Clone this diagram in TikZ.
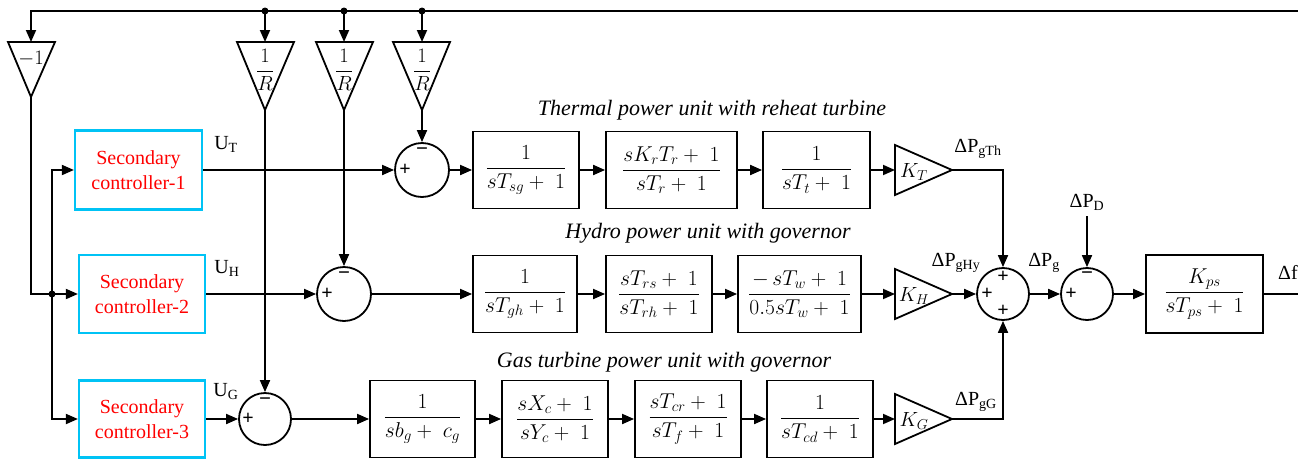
\documentclass[tikz,border=0pt]{standalone}
\usepackage{fix-cm}
\usepackage{amsmath}
\usepackage{fontspec}
\setmainfont{Liberation Serif}
\usetikzlibrary{arrows.meta}
\definecolor{ctrlblue}{RGB}{0,195,245}
\newcommand\fMath{\fontsize{21.5}{25}\selectfont}
\newcommand\fGain{\fontsize{20.5}{24}\selectfont}
\newcommand\fCtrl{\fontsize{20}{25}\selectfont}
\newcommand\fLbl{\fontsize{20}{24}\selectfont}
\newcommand\fTtl{\fontsize{22}{26}\selectfont\itshape}
\newcommand\fSgn{\fontsize{20}{20}\selectfont\bfseries}
\newcommand\fMinus{\fontsize{21}{21}\selectfont\bfseries}
\tikzset{
  ln/.style={line width=1.8pt},
  arr/.style={line width=1.8pt,-{Triangle[length=12pt,width=10pt]}},
  blk/.style={draw,line width=1.8pt,minimum height=77pt,inner sep=0pt,font=\fMath},
  ctrl/.style={draw=ctrlblue,line width=2.2pt,text=red,align=center,font=\fCtrl,inner sep=0pt},
  sumn/.style={circle,draw,line width=1.8pt,inner sep=0pt},
  lbl/.style={font=\fLbl,inner sep=0pt},
  ttl/.style={font=\fTtl,inner sep=0pt},
  sgn/.style={font=\fSgn,inner sep=0pt},
  mns/.style={font=\fMinus,inner sep=0pt},
  gtxt/.style={font=\fGain,inner sep=0pt},
  gain/.style={line width=1.8pt},
}
\begin{document}
\begin{tikzpicture}[x=1pt,y=-1pt]
\useasboundingbox (0,0) rectangle (1298,458);

% controllers
\node[ctrl,minimum width=127pt,minimum height=79pt] (c1) at (138.5,170) {Secondary\\controller-1};
\node[ctrl,minimum width=126pt,minimum height=78pt] (c2) at (142,294) {Secondary\\controller-2};
\node[ctrl,minimum width=126pt,minimum height=77pt] (c3) at (142,419) {Secondary\\controller-3};

% summing junctions
\node[sumn,minimum size=54pt] (st) at (422,170) {};
\node[sumn,minimum size=54pt] (sh) at (344,294) {};
\node[sumn,minimum size=52pt] (sg) at (265,419) {};
\node[sumn,minimum size=52pt] (sm) at (1003,294) {};
\node[sumn,minimum size=52pt] (sd) at (1087,294) {};

% signs
\node[sgn] at ([xshift=-17pt]st.center) {+};
\node[mns] at ([yshift=-10pt]st.north) {−};
\node[sgn] at ([xshift=-17pt]sh.center) {+};
\node[mns] at ([yshift=-10pt]sh.north) {−};
\node[sgn] at ([xshift=-17pt]sg.center) {+};
\node[mns] at ([yshift=-10pt]sg.north) {−};
\node[sgn] at ([xshift=-16pt]sm.center) {+};
\node[sgn] at ([yshift=-10pt]sm.north) {+};
\node[sgn] at ([yshift=10pt]sm.south) {+};
\node[sgn] at ([xshift=-16pt]sd.center) {+};
\node[mns] at ([yshift=-9pt]sd.north) {−};

% thermal blocks
\node[blk,minimum width=106pt] (t1) at (526,170) {$\dfrac{1}{sT_{sg}+\;1}$};
\node[blk,minimum width=131pt] (t2) at (671.5,170) {$\dfrac{sK_rT_r+\;1}{sT_r+\;1}$};
\node[blk,minimum width=107pt] (t3) at (816.5,170) {$\dfrac{1}{sT_t+\;1}$};
% hydro blocks
\node[blk,minimum width=104pt] (h1) at (525,294) {$\dfrac{1}{sT_{gh}+\;1}$};
\node[blk,minimum width=106pt] (h2) at (659,294) {$\dfrac{sT_{rs}+\;1}{sT_{rh}+\;1}$};
\node[blk,minimum width=123pt] (h3) at (799.5,294) {$\dfrac{-\,sT_w+\;1}{0.5sT_w+\;1}$};
% gas blocks
\node[blk,minimum width=105pt] (g1) at (422.5,419) {$\dfrac{1}{sb_g+\;c_g}$};
\node[blk,minimum width=106pt] (g2) at (555,419) {$\dfrac{sX_c+\;1}{sY_c+\;1}$};
\node[blk,minimum width=106pt] (g3) at (688,419) {$\dfrac{sT_{cr}+\;1}{sT_f+\;1}$};
\node[blk,minimum width=106pt] (g4) at (820,419) {$\dfrac{1}{sT_{cd}+\;1}$};
% power system
\node[blk,minimum width=117pt,minimum height=78pt] (kps) at (1204.5,294) {$\dfrac{K_{ps}}{sT_{ps}+\;1}$};

% gain triangles (downward)
\draw[gain] (8,42) -- (55,42) -- (31,97) -- cycle;
\node[gtxt] (negl) at (31,59) {$-1$};
\draw[gain] (237,42) -- (294,42) -- (265,110) -- cycle;
\node[gtxt] (r1l) at (265,70) {$\dfrac{1}{R}$};
\draw[gain] (316,42) -- (373,42) -- (344,110) -- cycle;
\node[gtxt] (r2l) at (344,70) {$\dfrac{1}{R}$};
\draw[gain] (393,42) -- (450,42) -- (422,110) -- cycle;
\node[gtxt] (r3l) at (422,70) {$\dfrac{1}{R}$};

% K triangles (rightward)
\draw[gain] (895,145) -- (952,170) -- (895,195) -- cycle;
\node[gtxt] (ktl) at (914,172) {$K_T$};
\draw[gain] (895,269) -- (952,294) -- (895,319) -- cycle;
\node[gtxt] (khl) at (914,296) {$K_H$};
\draw[gain] (895,394) -- (952,419) -- (895,444) -- cycle;
\node[gtxt] (kgl) at (914,421) {$K_G$};

% coordinates
\coordinate (edgeT) at (1298,11);
\coordinate (edgeR) at (1298,294);
\coordinate (negin) at (31,42);
\coordinate (negout) at (31,97);
\coordinate (d1) at (265,11);
\coordinate (d2) at (344,11);
\coordinate (d3) at (422,11);
\coordinate (r1in) at (265,42);
\coordinate (r2in) at (344,42);
\coordinate (r3in) at (422,42);
\coordinate (r1out) at (265,110);
\coordinate (r2out) at (344,110);
\coordinate (r3out) at (422,110);
\coordinate (jn) at (52,294);
\coordinate (ktin) at (895,170);
\coordinate (ktout) at (952,170);
\coordinate (khin) at (895,294);
\coordinate (khout) at (952,294);
\coordinate (kgin) at (895,419);
\coordinate (kgout) at (952,419);
\coordinate (pd) at (1087,216);

% feedback
\draw[arr] (edgeT) -| (negin);
\fill (d1) circle (3.5pt);
\fill (d2) circle (3.5pt);
\fill (d3) circle (3.5pt);
\draw[arr] (d1) -- (r1in);
\draw[arr] (d2) -- (r2in);
\draw[arr] (d3) -- (r3in);
\draw[arr] (r1out) -- (sg.north);
\draw[arr] (r2out) -- (sh.north);
\draw[arr] (r3out) -- (st.north);

% controller inputs
\draw[arr] (negout) |- (c2.west);
\fill (jn) circle (3.5pt);
\draw[arr] (jn) |- (c1.west);
\draw[arr] (jn) |- (c3.west);

% controller outputs
\draw[arr] (c1.east) -- (st.west);
\draw[arr] (c2.east) -- (sh.west);
\draw[arr] (c3.east) -- (sg.west);

% thermal chain
\draw[arr] (st.east) -- (t1.west);
\draw[arr] (t1.east) -- (t2.west);
\draw[arr] (t2.east) -- (t3.west);
\draw[arr] (t3.east) -- (ktin);
% hydro chain
\draw[arr] (sh.east) -- (h1.west);
\draw[arr] (h1.east) -- (h2.west);
\draw[arr] (h2.east) -- (h3.west);
\draw[arr] (h3.east) -- (khin);
% gas chain
\draw[arr] (sg.east) -- (g1.west);
\draw[arr] (g1.east) -- (g2.west);
\draw[arr] (g2.east) -- (g3.west);
\draw[arr] (g3.east) -- (g4.west);
\draw[arr] (g4.east) -- (kgin);

% to main sum
\draw[arr] (ktout) -| (sm.north);
\draw[arr] (khout) -- (sm.west);
\draw[arr] (kgout) -| (sm.south);
\draw[arr] (sm.east) -- (sd.west);
\draw[arr] (pd) -- (sd.north);
\draw[arr] (sd.east) -- (kps.west);
\draw[ln] (kps.east) -- (edgeR);

% labels
\node[lbl] (lut) at (226,144) {U\textsubscript{T}};
\node[lbl] (luh) at (227,268) {U\textsubscript{H}};
\node[lbl] (lug) at (226,392) {U\textsubscript{G}};
\node[lbl] (lpth) at (978,149) {ΔP\textsubscript{gTh}};
\node[lbl] (lphy) at (956,263) {ΔP\textsubscript{gHy}};
\node[lbl] (lpg) at (1044,263) {ΔP\textsubscript{g}};
\node[lbl] (lpd) at (1087,202) {ΔP\textsubscript{D}};
\node[lbl,anchor=west] (ldf) at (1278,272) {Δf};
\node[lbl] (lpgg) at (976,402) {ΔP\textsubscript{gG}};

% titles
\node[ttl] (tth) at (712,110) {Thermal power unit with reheat turbine};
\node[ttl] (tgh) at (708,233) {Hydro power unit with governor};
\node[ttl] (tgg) at (664,362) {Gas turbine power unit with governor};
\end{tikzpicture}
\end{document}
